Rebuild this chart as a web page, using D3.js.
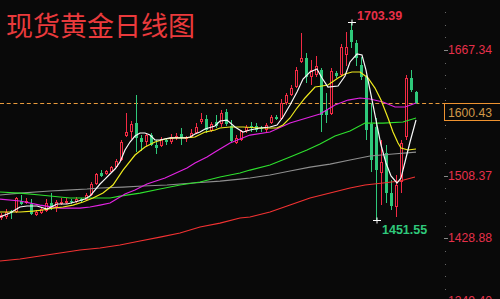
<!DOCTYPE html>
<html>
<head>
<meta charset="utf-8">
<script src="https://cdn.jsdelivr.net/npm/d3@7"></script>
<style>
  html, body { margin: 0; padding: 0; background: #090909; }
  svg { display: block; }
</style>
</head>
<body>
<div id="chart"></div>
<script>
// daily candles, oldest first (prices)
const opens = [1454.7,1456.0,1463.5,1462.3,1476.2,1473.7,1472.4,1458.5,1461.0,1463.5,
  1473.7,1468.6,1472.4,1473.7,1476.2,1474.9,1478.7,1477.5,1483.8,1497.7,
  1511.7,1510.4,1512.9,1519.2,1528.1,1558.5,1563.5,1574.9,1556.0,1550.9,
  1559.7,1547.1,1545.8,1553.4,1550.9,1556.0,1561.0,1554.7,1557.2,1562.3,
  1576.2,1580.0,1564.8,1576.2,1573.7,1588.9,1571.1,1549.6,1553.4,1564.8,
  1571.1,1571.1,1568.6,1566.1,1574.9,1582.5,1580.0,1600.3,1610.4,1620.5,
  1652.2,1657.2,1633.2,1635.7,1642.0,1591.4,1586.3,1638.2,1635.7,1661.0,
  1692.7,1676.2,1648.4,1633.2,1573.7,1569.9,1511.7,1537.0,1486.3,1468.6,
  1500.3,1557.2,1631.9,1614.2];
const highs = [1461.0,1466.1,1464.8,1481.3,1483.8,1480.0,1478.7,1464.8,1468.6,1478.7,
  1486.3,1477.5,1480.0,1480.0,1478.7,1481.3,1480.0,1486.3,1500.3,1511.7,
  1515.4,1515.4,1520.5,1529.4,1553.4,1587.6,1577.5,1610.4,1559.7,1562.3,
  1562.3,1553.4,1557.2,1556.0,1561.0,1562.3,1568.6,1558.5,1567.3,1574.9,
  1587.6,1585.1,1576.2,1585.1,1591.4,1592.7,1578.7,1559.7,1566.1,1572.4,
  1576.2,1574.9,1571.1,1574.9,1585.1,1585.1,1605.3,1612.9,1623.0,1645.8,
  1688.9,1663.5,1654.7,1659.7,1644.6,1612.9,1644.6,1640.8,1674.9,1690.0,
  1703.39,1680.0,1658.5,1635.7,1600.3,1581.3,1553.4,1547.1,1502.8,1509.1,
  1553.4,1635.7,1642.0,1615.4];
const lows = [1452.2,1453.4,1453.4,1461.0,1471.1,1472.4,1458.5,1457.2,1459.8,1462.3,
  1464.8,1462.3,1471.1,1472.4,1472.4,1473.7,1474.9,1476.2,1482.5,1496.5,
  1506.6,1509.1,1511.7,1518.0,1526.8,1557.2,1554.7,1538.2,1539.5,1545.8,
  1545.8,1535.7,1544.6,1547.1,1548.4,1553.4,1547.1,1550.9,1556.0,1561.0,
  1573.7,1562.3,1563.5,1568.6,1569.9,1571.1,1550.9,1548.4,1552.2,1562.3,
  1563.5,1563.5,1563.5,1563.5,1573.7,1578.7,1578.7,1597.7,1609.1,1619.2,
  1650.9,1625.6,1623.0,1633.2,1563.5,1574.9,1585.1,1631.9,1633.2,1647.1,
  1669.9,1647.1,1629.4,1553.4,1512.9,1451.55,1471.1,1473.7,1464.8,1456.0,
  1486.3,1553.4,1614.2,1599.0];
const closes = [1458.5,1462.3,1461.0,1480.0,1472.4,1476.2,1459.8,1462.3,1466.1,1473.7,
  1468.6,1474.9,1474.9,1476.2,1474.9,1478.7,1476.2,1483.8,1497.7,1510.4,
  1507.9,1514.2,1519.2,1526.8,1550.9,1563.5,1573.7,1556.0,1550.9,1559.7,
  1547.1,1543.3,1554.7,1550.9,1557.2,1558.5,1556.0,1557.2,1562.3,1569.9,
  1580.0,1566.1,1573.7,1571.1,1587.6,1573.7,1552.2,1556.0,1564.8,1569.9,
  1568.6,1566.1,1567.3,1572.4,1582.5,1580.0,1600.3,1610.4,1619.2,1642.0,
  1657.2,1633.2,1642.0,1647.1,1585.1,1585.1,1640.8,1634.4,1671.1,1671.1,
  1677.5,1657.2,1633.2,1566.1,1528.1,1515.4,1525.6,1486.3,1469.9,1496.5,
  1549.6,1631.9,1616.7,1600.43];

// moving average lines, [candle index, price]
const ma5 = [[-0.3,1456.0],[1.7,1461.0],[3.7,1468.6],[5.1,1469.9],[7.1,1469.9],[9.1,1466.1],[11.1,1472.4],[13.1,1472.4],[14.7,1474.9],[16.7,1478.7],[17.7,1482.5],[18.7,1490.1],[19.7,1497.7],[20.7,1504.0],[21.7,1510.4],[22.7,1516.7],[23.7,1525.6],[24.7,1540.8],[25.7,1550.9],[26.7,1558.5],[27.7,1562.3],[28.7,1562.3],[29.7,1559.7],[30.7,1553.4],[31.7,1553.4],[33.7,1556.0],[36.7,1556.0],[37.7,1557.2],[38.7,1561.0],[39.7,1563.5],[40.7,1567.3],[42.7,1571.1],[43.7,1577.5],[45.1,1578.7],[46.7,1569.9],[48.3,1563.5],[49.7,1566.1],[51.7,1568.6],[53.7,1569.9],[55.1,1572.4],[56.3,1582.5],[57.7,1597.7],[59.1,1614.2],[60.3,1630.6],[61.7,1639.5],[63.1,1643.3],[64.1,1631.9],[65.3,1620.5],[67.3,1621.8],[68.7,1634.4],[69.7,1652.2],[71.1,1662.3],[72.1,1661.0],[72.9,1642.0],[73.9,1610.4],[74.9,1578.7],[75.9,1547.1],[76.9,1524.3],[77.9,1507.9],[79.1,1499.0],[79.9,1505.3],[80.7,1525.6],[81.7,1550.9],[82.9,1578.7]];
const ma10 = [[-0.3,1462.3],[3.7,1462.3],[6.3,1463.5],[8.3,1464.8],[10.3,1467.3],[12.3,1468.6],[14.3,1471.1],[16.3,1474.9],[18.3,1480.0],[20.3,1486.3],[22.3,1496.5],[24.3,1515.4],[26.7,1534.4],[28.7,1544.6],[30.7,1550.9],[32.7,1554.7],[34.7,1556.0],[36.7,1556.0],[38.7,1557.2],[40.7,1563.5],[42.7,1566.1],[43.7,1568.6],[45.7,1569.9],[48.3,1569.9],[51.7,1568.6],[55.1,1568.6],[56.3,1572.4],[57.7,1581.3],[59.1,1593.9],[60.7,1606.6],[62.7,1620.5],[64.1,1621.8],[65.3,1623.0],[67.3,1631.9],[68.7,1637.0],[70.1,1639.5],[71.7,1639.5],[73.3,1631.9],[74.7,1619.2],[75.9,1604.0],[77.3,1581.3],[78.3,1563.5],[79.3,1549.6],[79.9,1543.3],[81.3,1540.8],[82.9,1542.0]];
const ma20 = [[-0.3,1478.7],[3.7,1476.2],[7.7,1471.1],[11.7,1467.3],[15.7,1467.3],[17.7,1468.6],[19.7,1471.1],[21.7,1473.7],[22.7,1477.5],[24.7,1485.1],[26.7,1490.1],[29.1,1497.7],[32.7,1505.3],[37.1,1518.0],[38.7,1524.3],[41.1,1531.9],[42.7,1538.2],[45.7,1549.6],[49.7,1559.7],[53.7,1563.5],[57.7,1574.9],[61.7,1582.5],[63.7,1586.3],[66.7,1597.7],[69.3,1604.0],[71.7,1606.6],[73.7,1605.3],[76.3,1601.5],[78.7,1595.2],[80.7,1595.2],[82.9,1600.3]];
const ma30 = [[-0.3,1487.6],[3.7,1486.3],[7.7,1483.8],[11.7,1481.3],[13.7,1480.0],[17.7,1480.0],[21.7,1480.0],[23.7,1482.5],[27.7,1486.3],[31.7,1491.4],[35.7,1496.5],[39.7,1500.3],[43.7,1506.6],[47.7,1511.7],[49.7,1515.4],[53.7,1521.8],[57.7,1531.9],[61.1,1540.8],[63.7,1548.4],[66.7,1558.5],[69.7,1564.8],[72.7,1574.9],[76.3,1574.9],[80.3,1576.2],[82.9,1581.3]];
const ma60 = [[-0.3,1483.8],[3.7,1486.3],[9.7,1488.9],[13.1,1490.1],[17.1,1491.4],[19.7,1492.7],[24.3,1493.9],[28.3,1495.2],[33.1,1496.5],[38.3,1499.0],[43.7,1501.5],[47.7,1504.0],[49.7,1505.3],[53.7,1509.1],[57.7,1514.2],[61.7,1519.2],[65.7,1523.0],[69.7,1528.1],[73.7,1533.2],[78.3,1535.7],[82.9,1538.2]];
const ma120 = [[-0.3,1400.3],[3.7,1402.8],[7.7,1406.6],[11.7,1410.4],[15.7,1414.2],[19.7,1416.7],[23.7,1420.5],[27.7,1425.6],[31.7,1430.6],[35.7,1435.7],[39.7,1443.3],[43.7,1448.3],[47.7,1454.7],[49.7,1456.0],[53.7,1462.3],[57.7,1471.1],[61.7,1480.0],[65.7,1486.3],[69.7,1492.7],[72.7,1496.5],[76.3,1499.0],[79.7,1501.5],[82.7,1506.6]];

const tickLabels = ['1667.34', '1587.86', '1508.37', '1428.88', '1349.40'];
const lastPrice = 1600.43;
const title = '现货黄金日线图';

const width = 500, height = 299;
const upColor = '#f22a44', downColor = '#2fc97b';

const svg = d3.select('#chart').append('svg').attr('width', width).attr('height', height);
svg.append('rect').attr('width', width).attr('height', height).attr('fill', '#090909');

const x = d3.scaleLinear().domain([0, closes.length - 1]).range([1.5, 416.5]);
const y = d3.scaleLinear().domain([1349.40, 1667.34]).range([301.2, 50]);
const px = v => Math.round(y(v));

// current price dashed line
const yLast = Math.round(y(lastPrice)) + 0.5;
svg.append('line')
  .attr('x1', 0).attr('x2', 444).attr('y1', yLast).attr('y2', yLast)
  .attr('stroke', '#e89a3c').attr('stroke-width', 1).attr('stroke-dasharray', '4,2.7');

// candles
const candles = svg.append('g').attr('class', 'candles').attr('shape-rendering', 'crispEdges');
const idx = d3.range(closes.length);
idx.forEach(function (i) {
  const cx = x(i);
  const up = closes[i] >= opens[i];
  const top = px(Math.max(opens[i], closes[i]));
  const bot = Math.max(px(Math.min(opens[i], closes[i])), top + 1);
  const hi = px(highs[i]), lo = px(lows[i]);
  const g = candles.append('g');
  if (up) {
    if (hi < top) g.append('line').attr('x1', cx).attr('x2', cx).attr('y1', hi).attr('y2', top).attr('stroke', upColor);
    if (lo > bot) g.append('line').attr('x1', cx).attr('x2', cx).attr('y1', bot).attr('y2', lo).attr('stroke', upColor);
    g.append('rect')
      .attr('x', cx - 1).attr('y', top + 0.5).attr('width', 2).attr('height', Math.max(bot - top - 1, 1))
      .attr('fill', '#090909').attr('stroke', upColor).attr('stroke-width', 1);
  } else {
    g.append('line').attr('x1', cx).attr('x2', cx).attr('y1', hi).attr('y2', lo).attr('stroke', downColor);
    g.append('rect')
      .attr('x', cx - 1.5).attr('y', top).attr('width', 3).attr('height', Math.max(bot - top, 1))
      .attr('fill', downColor);
  }
});

// moving averages
const line = d3.line().x(d => x(d[0])).y(d => y(d[1]));
const maSeries = [
  { data: ma120, color: '#f23232' },
  { data: ma60, color: '#8e8e8e' },
  { data: ma30, color: '#2ee02e' },
  { data: ma20, color: '#e224e2' },
  { data: ma10, color: '#eeea1e' },
  { data: ma5, color: '#f8f8f8' },
];
svg.append('g').attr('class', 'ma')
  .selectAll('path').data(maSeries).enter().append('path')
  .attr('d', d => line(d.data))
  .attr('fill', 'none')
  .attr('stroke', d => d.color)
  .attr('stroke-width', 1.2);

// high / low markers
const hiIdx = d3.maxIndex(highs), loIdx = d3.minIndex(lows);
[[hiIdx, highs[hiIdx]], [loIdx, lows[loIdx]]].forEach(function (m) {
  const mx = x(m[0]) + 0.5, my = Math.round(y(m[1])) + 0.5;
  svg.append('line').attr('x1', mx - 4).attr('x2', mx + 4).attr('y1', my).attr('y2', my).attr('stroke', '#fff');
  svg.append('line').attr('x1', mx).attr('x2', mx).attr('y1', my - 3).attr('y2', my + 3).attr('stroke', '#fff');
});
svg.append('text')
  .attr('x', x(hiIdx) + 5.5).attr('y', 19.5)
  .attr('font-family', 'Liberation Sans, Arial, sans-serif').attr('font-size', 12.5).attr('font-weight', 'bold')
  .attr('fill', '#e83048').text(highs[hiIdx].toFixed(2));
svg.append('text')
  .attr('x', x(loIdx) + 5.5).attr('y', 233.5)
  .attr('font-family', 'Liberation Sans, Arial, sans-serif').attr('font-size', 12.5).attr('font-weight', 'bold')
  .attr('fill', '#2fc97b').text(lows[loIdx].toFixed(2));

// right price axis
const axis = svg.append('g').attr('class', 'axis');
const major = tickLabels.map(Number);
const step = (major[0] - major[1]) / 5;
d3.range(-3, 5 * (major.length - 1) + 3).forEach(function (k) {
  const yy = Math.round(y(major[0] - k * step)) + 0.5;
  if (k % 5 === 0) {
    axis.append('line').attr('x1', 444).attr('x2', 448).attr('y1', yy).attr('y2', yy).attr('stroke', '#888');
  } else {
    axis.append('rect').attr('x', 445).attr('y', yy - 0.5).attr('width', 1).attr('height', 1).attr('fill', '#666');
  }
});
axis.selectAll('text.tick').data(tickLabels).enter().append('text')
  .attr('class', 'tick')
  .attr('x', 448).attr('y', d => y(+d) + 4)
  .attr('font-family', 'Liberation Sans, Arial, sans-serif').attr('font-size', 12.2)
  .attr('fill', '#e6304a').text(d => d);

// current price box
const boxTop = Math.round(y(lastPrice)) + 0.5;
axis.append('rect')
  .attr('x', 444.5).attr('y', boxTop).attr('width', 60).attr('height', 17)
  .attr('fill', '#090909').attr('stroke', '#ef9330').attr('stroke-width', 1);
axis.append('text')
  .attr('x', 448).attr('y', boxTop + 13)
  .attr('font-family', 'Liberation Sans, Arial, sans-serif').attr('font-size', 12.2)
  .attr('fill', '#d09848').text(lastPrice.toFixed(2));

// title
svg.append('text')
  .attr('x', 6).attr('y', 36)
  .attr('font-family', 'Noto Sans CJK SC, sans-serif').attr('font-size', 27)
  .attr('fill', '#ea3a3c').text(title);
</script>
</body>
</html>
